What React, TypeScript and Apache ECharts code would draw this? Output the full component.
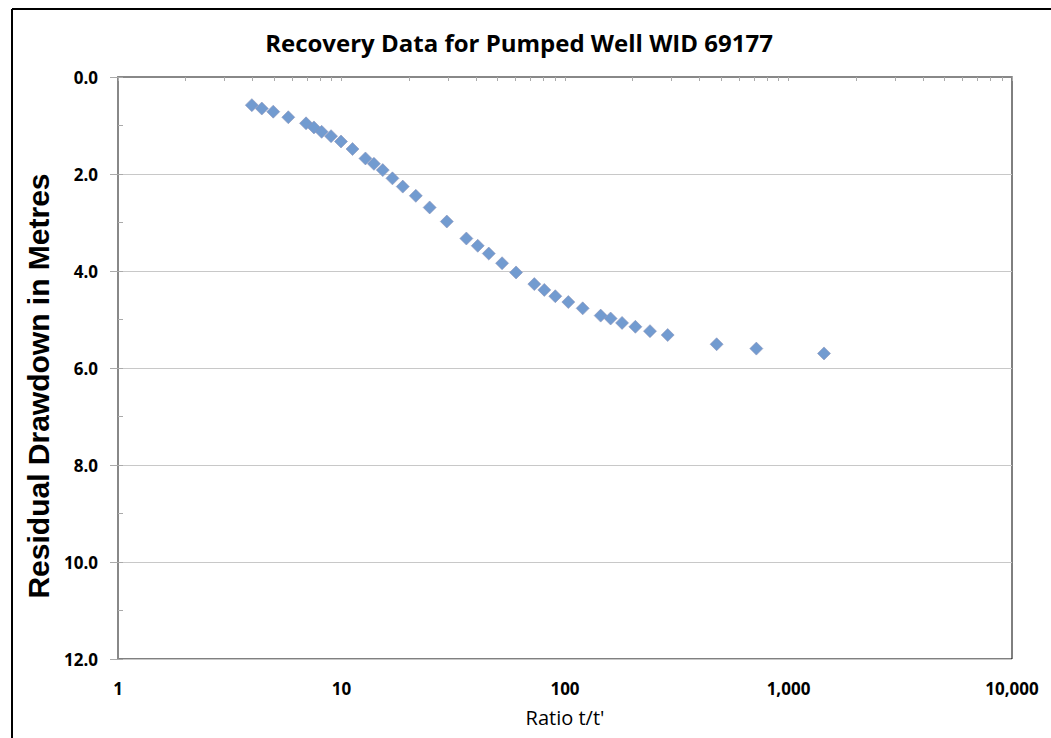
import React, { useEffect, useRef } from "react";
import * as echarts from "echarts";

const TITLE = "Recovery Data for Pumped Well WID 69177";
const X_NAME = "Ratio t/t'";
const Y_NAME = "Residual Drawdown in Metres";

const ratio: number[] = [
  3.97, 4.4, 4.95, 5.78, 6.94, 7.53, 8.15, 8.98, 9.95, 11.2, 12.8, 13.97, 15.3,
  16.9, 18.8, 21.5, 24.8, 29.6, 36.2, 40.7, 45.6, 52.3, 60.4, 72.9, 80.8, 90.5,
  103.5, 120, 144.4, 160, 180, 206.5, 240, 288, 477, 718, 1442,
];
const drawdown: number[] = [
  0.58, 0.65, 0.715, 0.83, 0.955, 1.04, 1.13, 1.22, 1.33, 1.485, 1.68, 1.79, 1.92,
  2.09, 2.26, 2.45, 2.69, 2.98, 3.33, 3.48, 3.64, 3.84, 4.03, 4.27, 4.39, 4.52,
  4.64, 4.77, 4.92, 4.98, 5.07, 5.15, 5.24, 5.32, 5.51, 5.6, 5.7,
];

const xTickValues: number[] = [
  1, 2, 3, 4, 5, 6, 7, 8, 9, 10, 20, 30, 40, 50, 60, 70, 80, 90, 100, 200, 300,
  400, 500, 600, 700, 800, 900, 1000, 2000, 3000, 4000, 5000, 6000, 7000, 8000,
  9000, 10000,
];
const xLabelValues: number[] = [1, 10, 100, 1000, 10000];

export default function App() {
  const ref = useRef<HTMLDivElement>(null);
  useEffect(() => {
    if (!ref.current) return;
    const chart = echarts.init(ref.current, null, { renderer: "svg" });
    const labelFont = "'Open Sans', 'Liberation Sans', sans-serif";
    chart.setOption({
      animation: false,
      backgroundColor: "#ffffff",
      title: {
        text: TITLE,
        left: 514,
        top: 25,
        textAlign: "center",
        textStyle: {
          fontFamily: labelFont,
          fontWeight: "bold",
          fontSize: 24,
          color: "#000",
        },
      },
      graphic: [
        {
          type: "line",
          shape: { x1: 12, y1: 9, x2: 1051, y2: 9 },
          style: { stroke: "#000", lineWidth: 2 },
        },
        {
          type: "line",
          shape: { x1: 12, y1: 9, x2: 12, y2: 738 },
          style: { stroke: "#000", lineWidth: 2 },
        },
      ],
      grid: {
        left: 118,
        top: 77,
        right: 39,
        bottom: 79,
        show: true,
        borderColor: "#000",
        borderWidth: 1,
        backgroundColor: "transparent",
      },
      xAxis: [
        {
          type: "log",
          logBase: 10,
          min: 1,
          max: 10000,
          name: X_NAME,
          nameLocation: "middle",
          nameGap: 48,
          nameTextStyle: { fontFamily: labelFont, fontSize: 20, color: "#000" },
          axisLine: { show: true, lineStyle: { color: "#888", width: 2 } },
          axisTick: {
            show: true,
            length: 4,
            customValues: xTickValues,
            lineStyle: { color: "#aaa" },
          },
          axisLabel: {
            customValues: xLabelValues,
            margin: 21,
            fontFamily: labelFont,
            fontWeight: "bold",
            fontSize: 17,
            color: "#000",
            formatter: (v: number) => Math.round(v).toLocaleString("en-US"),
          },
          splitLine: { show: false },
          minorTick: { show: false },
        },
      ],
      yAxis: [
        {
          type: "value",
          inverse: true,
          min: 0,
          max: 12,
          interval: 2,
          name: Y_NAME,
          nameLocation: "middle",
          nameGap: 63,
          nameTextStyle: {
            fontFamily: "'Liberation Sans', Arial, sans-serif",
            fontWeight: "bold",
            fontSize: 30,
            color: "#000",
            padding: [0, 36, 0, 0],
          },
          axisLine: { show: true, lineStyle: { color: "#888", width: 2 } },
          axisTick: { show: true, length: 8, lineStyle: { color: "#aaa" } },
          axisLabel: {
            margin: 20,
            fontFamily: labelFont,
            fontWeight: "bold",
            fontSize: 17,
            color: "#000",
            formatter: (v: number) => v.toFixed(1),
          },
          splitLine: { show: true, lineStyle: { color: "#c8c8c8", width: 1 } },
        },
        {
          type: "value",
          inverse: true,
          min: 0,
          max: 12,
          interval: 1,
          position: "left",
          axisLine: { show: false },
          axisTick: { show: true, inside: true, length: 5, lineStyle: { color: "#aaa" } },
          axisLabel: { show: false },
          splitLine: { show: false },
        },
      ],
      series: [
        {
          type: "scatter",
          xAxisIndex: 0,
          yAxisIndex: 0,
          symbol: "diamond",
          symbolSize: 13,
          itemStyle: {
            color: "#729bd0",
            borderColor: "#8c93b8",
            borderWidth: 0.6,
            opacity: 1,
          },
          data: ratio.map((r, i) => [r, drawdown[i]]),
        },
      ],
    });
    return () => chart.dispose();
  }, []);
  return (
    <div
      ref={ref}
      style={{ position: "fixed", left: 0, top: 0, width: 1051, height: 738 }}
    />
  );
}
